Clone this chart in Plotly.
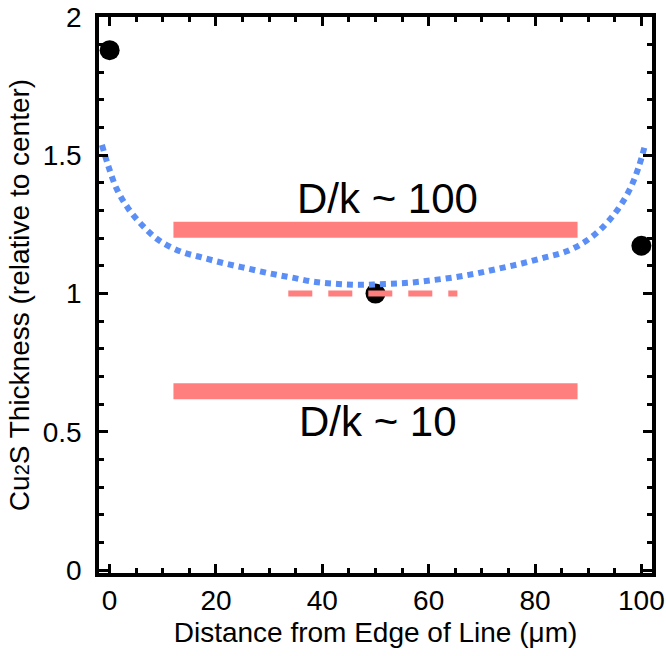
import plotly.graph_objects as go

# Measured points
pt_x = [0, 50, 100]
pt_y = [1.88, 1.0, 1.173]

# Model curve (dotted blue)
curve_x = [-1.45, -0.19, 1.32, 3.5, 6.33, 9.4, 13.4, 17.5, 21.7, 25.9, 30.1, 34.3,
           38.7, 43.0, 47.3, 51.8, 56.1, 60.4, 64.8, 69.0, 73.3, 77.5, 81.7, 85.8,
           89.6, 92.9, 95.7, 97.9, 99.5, 100.7]
curve_y = [1.538, 1.458, 1.379, 1.308, 1.243, 1.191, 1.152, 1.130, 1.109, 1.091, 1.073, 1.058,
           1.042, 1.035, 1.032, 1.035, 1.039, 1.048, 1.059, 1.073, 1.091, 1.109, 1.130, 1.152,
           1.190, 1.243, 1.308, 1.380, 1.458, 1.538]

# Reference bars
bar_hi_x = [12, 88]
bar_hi_y = [1.231, 1.231]
bar_lo_x = [12, 88]
bar_lo_y = [0.647, 0.647]
bar_mid_x = [33.6, 65.4]
bar_mid_y = [1.0, 1.0]

labels = ["D/k ~ 100", "D/k ~ 10"]
label_x = [52.3, 50.4]
label_y = [1.343, 0.537]

x_ticks = [0, 20, 40, 60, 80, 100]
y_ticks = [0, 0.5, 1, 1.5, 2]
y_ticklabels = ["0", "0.5", "1", "1.5", "2"]

RED = "#ff7f7f"
BLUE = "#5b8ff5"
FONT = "Liberation Sans, Arial, sans-serif"

fig = go.Figure()
fig.add_trace(go.Scatter(x=pt_x, y=pt_y, mode="markers",
                         marker=dict(color="black", size=20), cliponaxis=False))
fig.add_trace(go.Scatter(x=bar_hi_x, y=bar_hi_y, mode="lines",
                         line=dict(color=RED, width=16)))
fig.add_trace(go.Scatter(x=bar_lo_x, y=bar_lo_y, mode="lines",
                         line=dict(color=RED, width=16)))
fig.add_trace(go.Scatter(x=bar_mid_x, y=bar_mid_y, mode="lines",
                         line=dict(color=RED, width=6, dash="24px,16px")))
fig.add_trace(go.Scatter(x=curve_x, y=curve_y, mode="lines",
                         line=dict(color=BLUE, width=6, dash="6px,5px", shape="spline")))

for t, x, y in zip(labels, label_x, label_y):
    fig.add_annotation(x=x, y=y, text=t, showarrow=False, xanchor="center", yanchor="middle",
                       font=dict(size=42, color="black", family=FONT))

axis_common = dict(showgrid=False, zeroline=False, showline=True, linecolor="black",
                   linewidth=3.5, mirror="ticks", ticks="inside", tickcolor="black",
                   tickwidth=2.5, ticklen=9, tickfont=dict(size=28, color="black", family=FONT))

fig.update_xaxes(range=[-2, 102], tickvals=x_ticks,
                 minor=dict(dtick=5, ticks="inside", ticklen=5, tickwidth=2.5, tickcolor="black"),
                 title=dict(text="Distance from Edge of Line (μm)",
                            font=dict(size=28, color="black", family=FONT), standoff=8),
                 **axis_common)
fig.update_yaxes(range=[-0.01, 2.0], tickvals=y_ticks, ticktext=y_ticklabels,
                 ticklabelstandoff=8,
                 minor=dict(dtick=0.1, ticks="inside", ticklen=5, tickwidth=2.5, tickcolor="black"),
                 title=dict(text="Cu<span style='font-size:20px'>2</span>S Thickness (relative to center)",
                            font=dict(size=28, color="black", family=FONT), standoff=6),
                 **axis_common)

fig.update_layout(width=666, height=656, showlegend=False,
                  plot_bgcolor="white", paper_bgcolor="white",
                  margin=dict(l=99, r=14, t=17, b=83, autoexpand=False))

fig.write_html("out.html", config={"displayModeBar": False},
               post_script="document.body.style.margin='0px';")
